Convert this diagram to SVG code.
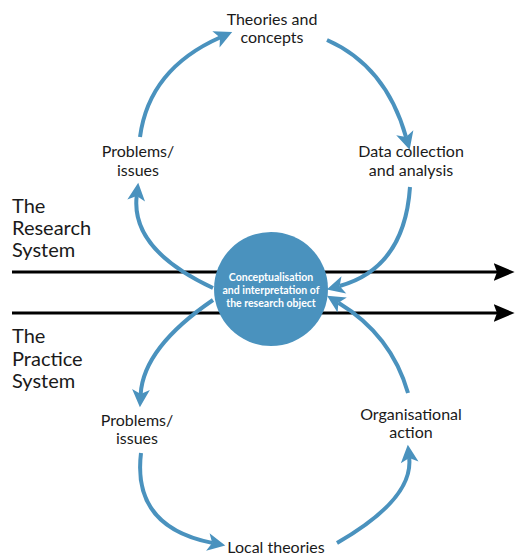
<svg xmlns="http://www.w3.org/2000/svg" width="515" height="556" viewBox="0 0 515 556">
<style>
.lbl{font-family:Lato,"Open Sans","DejaVu Sans",sans-serif;font-size:16px;fill:#1a1a1a;text-anchor:middle}
.sys{font-family:Lato,"Open Sans","DejaVu Sans",sans-serif;font-size:20px;fill:#1a1a1a}
.ctr{font-family:Lato,"Open Sans","DejaVu Sans",sans-serif;font-size:10.5px;font-weight:bold;fill:#ffffff;text-anchor:middle}
.arc{fill:none;stroke:#4a92be;stroke-width:4;marker-end:url(#bh)}
.axis{fill:none;stroke:#000;stroke-width:3;marker-end:url(#kh)}
</style>
<defs>
<marker id="bh" markerUnits="userSpaceOnUse" markerWidth="20" markerHeight="20" viewBox="-1 -9 18 18" refX="4" refY="0" orient="auto">
<path d="M0,-8 L16,0 L0,8 L4,0 Z" fill="#4a92be"/>
</marker>
<marker id="kh" markerUnits="userSpaceOnUse" markerWidth="22" markerHeight="22" viewBox="0 -9 20 18" refX="3" refY="0" orient="auto">
<path d="M0,-8 L19,0 L0,8 L3,0 Z" fill="#000"/>
</marker>
</defs>
<g id="connectors">
<path class="axis" d="M12,272 H497"/>
<path class="axis" d="M12,313 H497"/>
<path class="arc" d="M140,137 Q149,69 220,37.5"/>
<path class="arc" d="M327,40 Q386,66 406,137"/>
<path class="arc" d="M213,288 Q130.5,249.5 136.7,196"/>
<path class="arc" d="M410,187 Q404.5,268 339.6,286"/>
<path class="arc" d="M213,300 Q143.5,347.5 140.7,394"/>
<path class="arc" d="M408,393 Q391.5,335 338.4,302.7"/>
<path class="arc" d="M141,453 Q132,527 212.2,542.9"/>
<path class="arc" d="M337,543 Q413.5,499 409.2,458"/>
</g>
<g id="center">
<circle cx="271" cy="289" r="57" fill="#4a92be"/>
<text class="ctr" x="271" y="281">Conceptualisation</text>
<text class="ctr" x="271" y="294">and interpretation of</text>
<text class="ctr" x="271" y="307">the research object</text>
</g>
<g id="theories"><text class="lbl" x="272" y="25">Theories and</text><text class="lbl" x="272" y="43">concepts</text></g>
<g id="data"><text class="lbl" x="411" y="157">Data collection</text><text class="lbl" x="411" y="176">and analysis</text></g>
<g id="problems-top"><text class="lbl" x="138" y="157">Problems/</text><text class="lbl" x="138" y="176">issues</text></g>
<g id="research-system"><text class="sys" x="12" y="213">The</text><text class="sys" x="12" y="235">Research</text><text class="sys" x="12" y="257">System</text></g>
<g id="practice-system"><text class="sys" x="12" y="343">The</text><text class="sys" x="12" y="366">Practice</text><text class="sys" x="12" y="388">System</text></g>
<g id="problems-bottom"><text class="lbl" x="137" y="426">Problems/</text><text class="lbl" x="137" y="444">issues</text></g>
<g id="organisational"><text class="lbl" x="411" y="420">Organisational</text><text class="lbl" x="411" y="438">action</text></g>
<g id="local"><text class="lbl" x="276" y="553">Local theories</text></g>
</svg>
